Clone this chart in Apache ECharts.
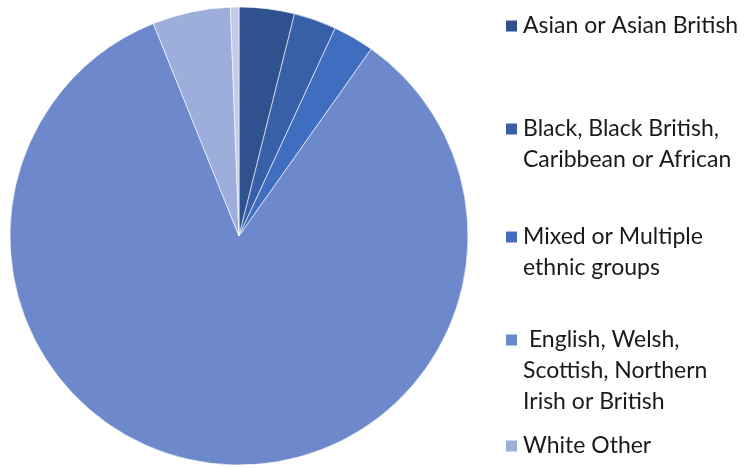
<!DOCTYPE html>
<html>
<head>
<meta charset="utf-8">
<script src="https://cdn.jsdelivr.net/npm/echarts@6/dist/echarts.min.js"></script>
<style>
  html, body { margin: 0; padding: 0; background: #fff; }
  #main { width: 745px; height: 469px; }
</style>
</head>
<body>
<div id="main"></div>
<script>
// categories as shown in the legend (last one is the small unlabelled sliver)
var categories = [
  'Asian or Asian British',
  'Black, Black British,\nCaribbean or African',
  'Mixed or Multiple\nethnic groups',
  ' English, Welsh,\nScottish, Northern\nIrish or British',
  'White Other',
  'Other ethnic group'
];
// share of respondents, %
var values = [3.9, 3.0, 2.9, 84.1, 5.5, 0.6];
var colors = ['#2F528F', '#3760A9', '#3F6DC0', '#6E89CB', '#9DAEDA', '#C2CBE8'];

var chartDom = document.getElementById('main');
var myChart = echarts.init(chartDom);

var lineH = 31;
var iconCenters = [26, 129, 237, 340, 446]; // legend rows
var legends = [];
for (var i = 0; i < 5; i++) {
  var n = categories[i].split('\n').length;
  legends.push({
    left: 504,
    top: iconCenters[i] - (2 * n - 1) * lineH / 2,
    padding: 0,
    itemWidth: 13,
    itemHeight: 13,
    icon: 'rect',
    selectedMode: false,
    data: [categories[i]],
    // blank lines on top so the square sits beside the first line
    formatter: function (name) {
      var k = name.split('\n').length;
      return new Array(k).join('\n') + name;
    },
    textStyle: {
      fontFamily: 'Lato',
      fontSize: 23,
      color: '#1a1a1a',
      lineHeight: lineH
    }
  });
}

var option = {
  animation: false,
  color: colors,
  legend: legends,
  series: [
    {
      type: 'pie',
      center: [239, 236],
      radius: 229,
      startAngle: 90,
      clockwise: true,
      label: { show: false },
      labelLine: { show: false },
      itemStyle: { borderColor: '#fff', borderWidth: 0.6 },
      emphasis: { disabled: true },
      data: categories.map(function (c, i) { return { name: c, value: values[i] }; })
    }
  ]
};
myChart.setOption(option);
</script>
</body>
</html>
